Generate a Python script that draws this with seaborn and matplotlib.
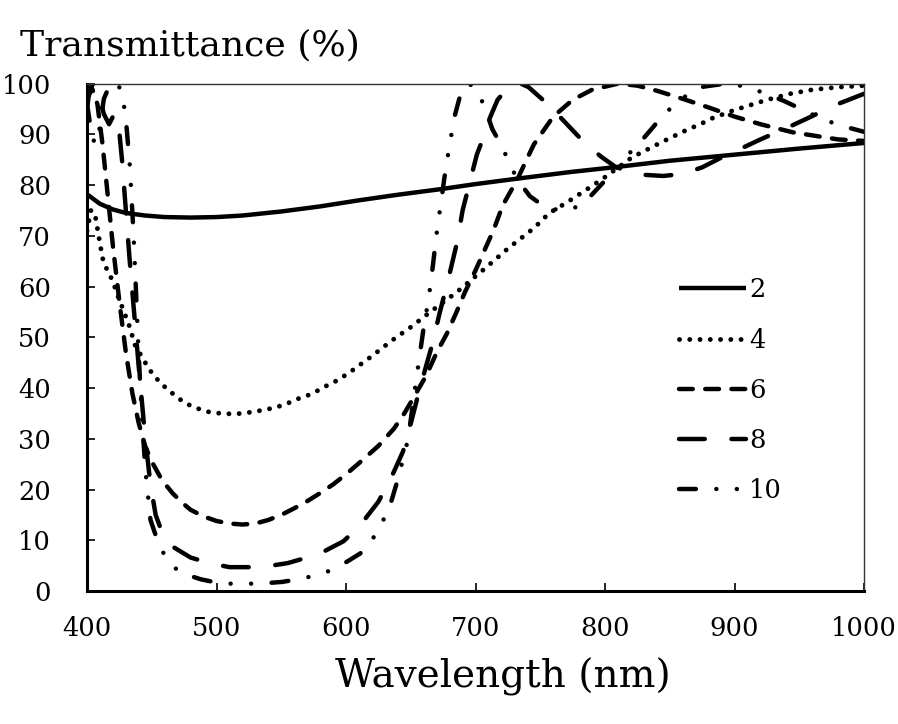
import numpy as np
import pandas as pd
import seaborn as sns
import matplotlib.pyplot as plt

# transmittance spectra, one pair of lists per layer count
wl_2 = [400, 410, 420, 430, 445, 460, 480, 500, 520, 550, 580, 610, 640, 673, 700, 730, 774, 810, 850, 900, 950, 1000]
t_2 = [78.2, 76.3, 75.2, 74.5, 74.0, 73.7, 73.6, 73.7, 74.0, 74.8, 75.8, 77.0, 78.1, 79.2, 80.2, 81.2, 82.6, 83.6, 84.8, 86.0, 87.2, 88.3]

wl_4 = [400, 403, 406, 409, 412, 415, 420, 423, 428, 433, 437, 445, 450, 457, 463, 469, 476, 485, 494, 503,
        512, 520, 528, 537, 546, 555, 562, 571, 579, 586, 594, 605, 620, 635, 650, 665, 685, 706, 725, 745,
        757, 770, 785, 798, 821, 844, 860, 875, 883, 900, 925, 943, 960, 980, 1000]
t_4 = [71.0, 75.0, 74.5, 70.0, 65.6, 63.6, 61.0, 58.7, 55.4, 52.0, 48.5, 45.0, 43.0, 40.9, 39.6, 38.3, 37.0, 36.0, 35.3, 35.0,
       34.9, 35.0, 35.3, 35.7, 36.2, 37.0, 37.8, 38.6, 39.6, 40.6, 41.6, 43.5, 46.3, 49.3, 52.0, 55.0, 58.8, 63.3, 67.5, 71.5,
       74.5, 76.5, 79.0, 81.2, 85.5, 88.5, 90.5, 92.2, 93.2, 94.8, 96.8, 98.0, 98.8, 99.3, 99.6]

wl_6 = [400, 404, 408, 412, 416, 420, 425, 430, 435, 440, 445, 450, 458, 466, 473, 480, 490, 500, 510, 520,
        530, 540, 550, 560, 570, 580, 590, 600, 610, 625, 637, 645, 653, 662, 670, 678, 685, 692, 700, 707,
        714, 721, 732, 745, 760, 775, 790, 810, 825, 840, 860, 880, 900, 920, 945, 960, 980, 1000]
t_6 = [97.0, 99.0, 96.0, 88.0, 78.0, 68.0, 57.0, 47.0, 39.0, 33.0, 28.5, 25.5, 21.8, 19.3, 17.5, 16.0, 14.7, 13.8, 13.3, 13.1,
       13.3, 14.0, 15.0, 16.3, 17.7, 19.3, 21.0, 23.0, 25.2, 28.6, 32.0, 35.0, 38.5, 42.5, 47.0, 50.8, 54.8, 59.0, 63.2, 67.2,
       71.2, 76.0, 81.0, 88.0, 93.5, 96.8, 98.8, 100.0, 99.6, 98.6, 97.0, 95.3, 93.5, 92.0, 90.4, 89.8, 89.0, 88.7]

wl_8 = [400, 402, 405, 409, 413, 417, 421, 424, 427, 430, 433, 436, 440, 445, 449, 453, 458, 467, 480, 494,
        510, 525, 540, 555, 570, 583, 598, 605, 615, 625, 635, 644, 650, 656, 662, 667, 672, 679, 686, 690,
        697, 701, 707, 711, 717, 726, 735, 741, 752, 765, 775, 785, 797, 808, 825, 845, 860, 875, 888, 905,
        920, 944, 960, 975, 1000]
t_8 = [95.0, 99.0, 100.0, 98.0, 94.0, 92.0, 94.0, 93.0, 85.0, 75.0, 65.0, 56.0, 44.0, 30.0, 21.0, 15.0, 11.5, 8.6, 6.6, 5.5,
       4.7, 4.7, 4.9, 5.5, 6.6, 7.8, 9.8, 11.5, 14.3, 17.6, 22.4, 27.5, 33.0, 39.0, 44.5, 49.0, 54.5, 61.5, 69.0, 75.0,
       82.0, 86.0, 90.0, 93.2, 96.8, 99.5, 100.0, 99.3, 96.8, 93.5, 90.8, 88.1, 85.6, 83.6, 82.1, 81.8, 82.2, 83.5, 85.2, 87.2,
       89.0, 91.7, 93.6, 95.5, 98.0]

wl_10 = [400, 403, 406, 409, 413, 418, 423, 427, 430, 433, 436, 438, 440, 442, 445, 449, 455, 462, 472, 488,
         503, 519, 536, 551, 567, 583, 597, 611, 622, 633, 640, 648, 653, 660, 664, 667, 670, 673, 676, 680,
         684, 689, 695, 701, 707, 713, 720, 725, 732, 742, 753, 765, 775, 785, 796, 804, 812, 820, 829, 839,
         850, 863, 876, 893, 910, 922, 938, 953, 966, 981, 1000]
t_10 = [96.0, 91.0, 88.0, 90.0, 97.0, 100.0, 100.0, 98.5, 93.0, 84.0, 70.0, 58.0, 46.0, 36.0, 24.0, 14.0, 9.5, 6.0, 3.6, 2.3,
        1.5, 1.4, 1.5, 1.8, 2.5, 3.5, 5.2, 7.4, 10.8, 16.0, 22.0, 30.0, 39.5, 52.0, 58.0, 64.0, 70.5, 76.0, 81.5, 88.0,
        93.7, 98.5, 100.0, 98.8, 95.4, 91.0, 87.8, 85.0, 81.2, 77.8, 75.8, 75.0, 75.3, 76.8, 79.8, 82.0, 84.3, 86.6, 89.0, 92.0,
        95.0, 97.7, 99.4, 100.0, 99.4, 98.2, 96.6, 94.8, 93.2, 91.8, 90.5]

series = [
    ("2", wl_2, t_2, "-"),
    ("4", wl_4, t_4, (0, (0.01, 2.1))),
    ("6", wl_6, t_6, (0, (3.1, 2.8))),
    ("8", wl_8, t_8, (0, (5.8, 6.0))),
    ("10", wl_10, t_10, (0, (3.8, 4.6, 0.01, 4.6, 0.01, 4.6))),
]

sns.set_theme(style="ticks")
plt.rcParams["font.family"] = ["DejaVu Serif"]
plt.rcParams["text.color"] = "black"
plt.rcParams["xtick.color"] = "black"
plt.rcParams["ytick.color"] = "black"

fig = plt.figure(figsize=(8.98, 7.24), dpi=100)
ax = fig.add_axes([0.0969, 0.1837, 0.8653, 0.7008])

for name, wl, t, ls in series:
    df = pd.DataFrame({"wl": wl, "t": t})
    lw = 3.5 if name == "4" else 3.2
    sns.lineplot(data=df, x="wl", y="t", ax=ax, color="black", lw=lw, linestyle=ls,
                 dash_capstyle="round", solid_capstyle="butt", estimator=None, sort=False, label=name)

ax.set_xlim(400, 1000)
ax.set_ylim(0, 100)
ax.set_xticks(np.arange(400, 1001, 100))
ax.set_yticks(np.arange(0, 101, 10))
ax.tick_params(direction="in", length=6, width=1.2, labelsize=18.5, colors="black")
ax.tick_params(axis="y", pad=26)
ax.tick_params(axis="x", pad=18)
ax.set_xlabel("")
ax.set_ylabel("")

for side in ["left", "bottom"]:
    ax.spines[side].set_linewidth(2.2)
    ax.spines[side].set_color("black")
for side in ["top", "right"]:
    ax.spines[side].set_visible(True)
    ax.spines[side].set_linewidth(1.0)
    ax.spines[side].set_color("#333333")

leg = ax.legend(frameon=False, loc="upper left", bbox_to_anchor=(0.762, 0.618), borderpad=0,
                borderaxespad=0, handlelength=2.6, handletextpad=0.12, labelspacing=0.98, fontsize=18.5)
for txt in leg.get_texts():
    txt.set_color("black")

fig.text(20 / 898, 1 - 45 / 724, "Transmittance (%)", fontsize=26, ha="left", va="center", color="black")
fig.text(503 / 898, 1 - 677 / 724, "Wavelength (nm)", fontsize=28, ha="center", va="center", color="black")

fig.savefig("out.png", dpi=100)
plt.close()
